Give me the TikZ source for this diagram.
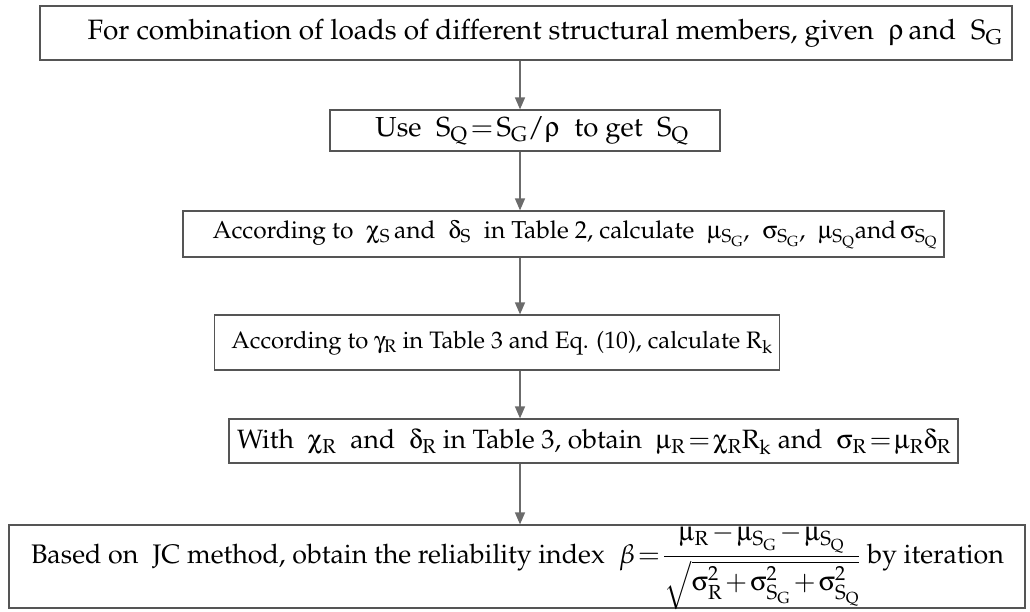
\documentclass[tikz,border=0pt]{standalone}
\usepackage[T1]{fontenc}
\usepackage{mathpazo}
\usepackage[Symbol]{upgreek}
\usetikzlibrary{arrows.meta}
\definecolor{boxline}{HTML}{555555}
\definecolor{arrowgray}{HTML}{6B6B6B}
\tikzset{
  flowbox/.style={draw=boxline, line width=1.2pt, rectangle, inner sep=0pt, anchor=center},
  flowtext/.style={inner sep=0pt, anchor=center, font=\fontsize{#1}{#1}\selectfont},
  flowarrow/.style={draw=arrowgray, line width=1.4pt, -{Triangle[length=12pt,width=10pt]}}
}
\newcommand{\sub}[1]{\mathrm{#1}}
\thickmuskip=2mu plus 1mu
\medmuskip=2mu plus 1mu
\begin{document}
\begin{tikzpicture}[x=1pt,y=-1pt]
\useasboundingbox (0,0) rectangle (1030,612);
% boxes
\node[flowbox, minimum width=972pt, minimum height=54pt] (b1) at (526,33) {};
\node[flowbox, minimum width=390pt, minimum height=41pt] (b2) at (525,130.5) {};
\node[flowbox, minimum width=761pt, minimum height=46pt] (b3) at (563.5,234) {};
\node[flowbox, minimum width=565pt, minimum height=55pt] (b4) at (497,342.5) {};
\node[flowbox, minimum width=729pt, minimum height=44pt] (b5) at (593.5,441) {};
\node[flowbox, minimum width=1016pt, minimum height=83pt] (b6) at (517,566.5) {};
% texts
\node[flowtext=28] (t1) at (545,33)
  {For combination of loads of different structural members, given\; $\uprho$\,and\; $\mathrm{S}_{\sub{G}}$};
\node[flowtext=27.5] (t2) at (532,131)
  {Use\; $\mathrm{S}_{\sub{Q}}=\mathrm{S}_{\sub{G}}/\uprho$\; to get\; $\mathrm{S}_{\sub{Q}}$};
\node[flowtext=24.5] (t3) at (575,235)
  {According to\; $\upchi_{\sub{S}}$\,and\; $\updelta_{\sub{S}}$\; in Table 2, calculate\; $\upmu_{\mathrm{S}_{\sub{G}}}$,\; $\upsigma_{\mathrm{S}_{\sub{G}}}$,\; $\upmu_{\mathrm{S}_{\sub{Q}}}$and\,$\upsigma_{\mathrm{S}_{\sub{Q}}}$};
\node[flowtext=23.8] (t4) at (502,343)
  {According to $\upgamma_{\sub{R}}$ in Table 3 and Eq. (10), calculate $\mathrm{R}_{\sub{k}}$};
\node[flowtext=26.5] (t5) at (594,442)
  {With\; $\upchi_{\sub{R}}$\; and\; $\updelta_{\sub{R}}$ in Table 3, obtain\; $\upmu_{\sub{R}}=\upchi_{\sub{R}}\mathrm{R}_{\sub{k}}$ and\; $\upsigma_{\sub{R}}=\upmu_{\sub{R}}\updelta_{\sub{R}}$};
\node[flowtext=26.8] (t6) at (517.5,567)
  {Based on\; JC method, obtain the reliability index\; $\displaystyle\beta=\frac{\upmu_{\sub{R}}-\upmu_{\mathrm{S}_{\sub{G}}}-\upmu_{\mathrm{S}_{\sub{Q}}}}{\sqrt{\upsigma_{\sub{R}}^2+\upsigma_{\mathrm{S}_{\sub{G}}}^2+\upsigma_{\mathrm{S}_{\sub{Q}}}^2}}$ by iteration};
% connectors
\coordinate (ax) at (520,0);
\draw[flowarrow] (b1.south -| ax) -- (b2.north -| ax);
\draw[flowarrow] (b2.south -| ax) -- (b3.north -| ax);
\draw[flowarrow] (b3.south -| ax) -- (b4.north -| ax);
\draw[flowarrow] (b4.south -| ax) -- (b5.north -| ax);
\draw[flowarrow] (b5.south -| ax) -- (b6.north -| ax);
\end{tikzpicture}
\end{document}
